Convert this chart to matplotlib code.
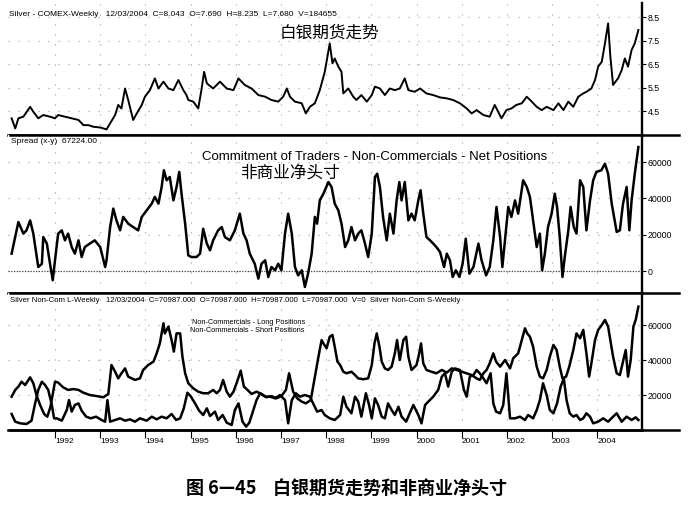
import matplotlib
matplotlib.use('Agg')
import matplotlib.pyplot as plt
from matplotlib.lines import Line2D

plt.rcParams['font.family'] = ['Liberation Sans', 'Noto Sans CJK SC', 'DejaVu Sans']

# ---- silver weekly price ----
price_dates = [1991.04, 1991.12, 1991.19, 1991.30, 1991.45, 1991.52, 1991.63, 1991.74, 1991.89, 1992.00,
               1992.07, 1992.22, 1992.37, 1992.52, 1992.63, 1992.74, 1992.85, 1993.00, 1993.14, 1993.22,
               1993.33, 1993.40, 1993.47, 1993.55, 1993.62, 1993.73, 1993.81, 1993.92, 1993.99, 1994.10,
               1994.21, 1994.29, 1994.40, 1994.51, 1994.62, 1994.73, 1994.84, 1994.91, 1994.95, 1995.06,
               1995.17, 1995.24, 1995.30, 1995.36, 1995.50, 1995.65, 1995.80, 1995.95, 1996.06, 1996.20,
               1996.35, 1996.50, 1996.65, 1996.79, 1996.94, 1997.05, 1997.13, 1997.20, 1997.31, 1997.46,
               1997.55, 1997.64, 1997.75, 1997.86, 1997.97, 1998.08, 1998.14, 1998.19, 1998.27, 1998.34,
               1998.38, 1998.49, 1998.60, 1998.67, 1998.78, 1998.90, 1999.01, 1999.08, 1999.19, 1999.30,
               1999.41, 1999.52, 1999.63, 1999.74, 1999.82, 1999.96, 2000.08, 2000.22, 2000.37, 2000.52,
               2000.67, 2000.81, 2000.96, 2001.11, 2001.22, 2001.33, 2001.48, 2001.62, 2001.73, 2001.88,
               2001.99, 2002.10, 2002.21, 2002.33, 2002.44, 2002.55, 2002.66, 2002.77, 2002.88, 2003.03,
               2003.14, 2003.25, 2003.36, 2003.47, 2003.58, 2003.69, 2003.76, 2003.87, 2003.95, 2004.02,
               2004.10, 2004.17, 2004.24, 2004.29, 2004.35, 2004.46, 2004.54, 2004.61, 2004.68, 2004.76,
               2004.83, 2004.91]
price = [4.19, 3.76, 4.19, 4.26, 4.68, 4.47, 4.19, 4.33, 4.26, 4.19,
         4.33, 4.26, 4.19, 4.12, 3.90, 3.90, 3.83, 3.80, 3.72, 3.98,
         4.33, 4.76, 4.61, 5.46, 4.97, 4.12, 4.40, 4.76, 5.11, 5.39,
         5.89, 5.46, 5.75, 5.46, 5.39, 5.82, 5.39, 5.18, 4.97, 4.90,
         4.61, 5.39, 6.17, 5.68, 5.46, 5.75, 5.46, 5.39, 5.89, 5.61,
         5.46, 5.18, 5.11, 4.97, 4.90, 5.11, 5.46, 5.11, 4.90, 4.83,
         4.40, 4.68, 4.83, 5.39, 6.17, 7.38, 6.53, 6.74, 6.39, 6.17,
         5.25, 5.46, 5.11, 4.97, 5.18, 4.90, 5.18, 5.54, 5.46, 5.18,
         5.46, 5.39, 5.46, 5.89, 5.39, 5.32, 5.46, 5.25, 5.18, 5.08,
         5.04, 4.97, 4.83, 4.61, 4.40, 4.54, 4.33, 4.26, 4.76, 4.19,
         4.54, 4.61, 4.76, 4.83, 5.11, 4.90, 4.68, 4.54, 4.68, 4.54,
         4.83, 4.54, 4.90, 4.68, 5.11, 5.25, 5.32, 5.46, 5.82, 6.39,
         6.60, 7.38, 8.23, 6.81, 5.61, 5.89, 6.24, 6.74, 6.39, 7.10,
         7.38, 7.95]

# ---- non-commercial net positions ----
net_dates = [1991.04, 1991.08, 1991.19, 1991.30, 1991.37, 1991.45, 1991.52, 1991.63, 1991.71, 1991.74,
             1991.82, 1991.89, 1991.95, 1992.00, 1992.07, 1992.15, 1992.22, 1992.29, 1992.37, 1992.44,
             1992.52, 1992.59, 1992.66, 1992.77, 1992.88, 1993.00, 1993.11, 1993.14, 1993.22, 1993.29,
             1993.36, 1993.44, 1993.51, 1993.62, 1993.73, 1993.84, 1993.92, 1994.03, 1994.14, 1994.21,
             1994.29, 1994.36, 1994.41, 1994.47, 1994.54, 1994.62, 1994.69, 1994.75, 1994.80, 1994.88,
             1994.95, 1995.02, 1995.13, 1995.21, 1995.28, 1995.36, 1995.43, 1995.50, 1995.61, 1995.69,
             1995.76, 1995.87, 1995.98, 1996.09, 1996.17, 1996.24, 1996.31, 1996.42, 1996.50, 1996.57,
             1996.65, 1996.72, 1996.79, 1996.87, 1996.94, 1997.01, 1997.09, 1997.16, 1997.24, 1997.31,
             1997.38, 1997.46, 1997.53, 1997.60, 1997.68, 1997.75, 1997.80, 1997.86, 1997.94, 1998.05,
             1998.12, 1998.19, 1998.27, 1998.34, 1998.42, 1998.49, 1998.56, 1998.64, 1998.71, 1998.78,
             1998.86, 1998.93, 1999.01, 1999.08, 1999.13, 1999.19, 1999.26, 1999.34, 1999.41, 1999.49,
             1999.56, 1999.62, 1999.67, 1999.74, 1999.82, 1999.89, 1999.96, 2000.04, 2000.09, 2000.15,
             2000.22, 2000.30, 2000.37, 2000.44, 2000.52, 2000.61, 2000.67, 2000.74, 2000.80, 2000.87,
             2000.95, 2001.02, 2001.09, 2001.17, 2001.26, 2001.37, 2001.44, 2001.54, 2001.62, 2001.70,
             2001.77, 2001.85, 2001.90, 2001.98, 2002.03, 2002.10, 2002.18, 2002.25, 2002.36, 2002.44,
             2002.51, 2002.58, 2002.66, 2002.73, 2002.78, 2002.84, 2002.91, 2002.99, 2003.06, 2003.11,
             2003.17, 2003.23, 2003.28, 2003.36, 2003.41, 2003.48, 2003.54, 2003.62, 2003.69, 2003.76,
             2003.84, 2003.91, 2003.98, 2004.09, 2004.17, 2004.24, 2004.32, 2004.43, 2004.50, 2004.57,
             2004.65, 2004.71, 2004.76, 2004.83, 2004.87, 2004.91]
net_pos = [9550, 14150, 27000, 20600, 22400, 27900, 20600, 2200, 4000, 18700,
           15100, 4000, -5100, 5900, 20600, 22400, 16900, 20600, 13200, 9550,
           16900, 7700, 13200, 15100, 16900, 13200, 2200, 5900, 24200, 34400,
           27900, 22400, 29800, 26100, 24200, 22400, 29800, 33400, 37100, 40800,
           37100, 46300, 55500, 50000, 51800, 38900, 46300, 54600, 42600, 26100,
           8600, 7700, 7700, 9550, 23300, 15100, 11400, 16900, 22400, 24200,
           18700, 16900, 22400, 31600, 20600, 16900, 9550, 4000, -4200, 4000,
           5900, -3300, 2200, 400, 4000, 400, 20600, 31600, 20600, 2200,
           -2400, 400, -8800, -1500, 9550, 29800, 26100, 38900, 42600, 49000,
           46300, 37100, 33400, 26100, 13200, 16900, 24200, 16900, 20600, 22400,
           15100, 7700, 20600, 51800, 53600, 46300, 29800, 16900, 31600, 20600,
           38900, 49000, 38900, 49000, 27900, 31600, 27900, 38900, 44500, 31600,
           18700, 16900, 15100, 13200, 10500, 2200, 9550, 5900, -3300, 400,
           -3300, 4000, 17800, -1500, 2200, 15100, 5900, -2400, 2200, 16900,
           35300, 18700, 2200, 22400, 35300, 29800, 38900, 31600, 50000, 46300,
           40800, 27900, 13200, 20600, 400, 9550, 24200, 31600, 42600, 35300,
           18700, -3300, 7700, 22400, 35300, 24200, 20600, 50000, 46300, 22400,
           38900, 50000, 54600, 55500, 59100, 53600, 37100, 21500, 22400, 37100,
           46300, 22400, 38900, 53600, 61000, 68300]

# ---- non-commercial long positions ----
long_dates = [1991.04, 1991.12, 1991.19, 1991.26, 1991.34, 1991.45, 1991.52, 1991.59, 1991.67, 1991.76,
              1991.83, 1991.90, 1992.00, 1992.07, 1992.18, 1992.29, 1992.41, 1992.52, 1992.63, 1992.77,
              1992.92, 1993.07, 1993.18, 1993.25, 1993.33, 1993.40, 1993.47, 1993.55, 1993.62, 1993.70,
              1993.77, 1993.88, 1993.95, 1994.06, 1994.18, 1994.25, 1994.32, 1994.40, 1994.43, 1994.51,
              1994.58, 1994.63, 1994.69, 1994.77, 1994.82, 1994.88, 1994.95, 1995.06, 1995.17, 1995.28,
              1995.39, 1995.50, 1995.58, 1995.65, 1995.72, 1995.80, 1995.87, 1995.95, 1996.03, 1996.11,
              1996.18, 1996.26, 1996.35, 1996.46, 1996.57, 1996.68, 1996.79, 1996.90, 1997.01, 1997.11,
              1997.18, 1997.27, 1997.36, 1997.46, 1997.55, 1997.66, 1997.75, 1997.83, 1997.90, 1997.94,
              1998.01, 1998.08, 1998.14, 1998.19, 1998.25, 1998.31, 1998.38, 1998.45, 1998.56, 1998.64,
              1998.71, 1998.82, 1998.93, 1999.01, 1999.07, 1999.12, 1999.18, 1999.23, 1999.30, 1999.37,
              1999.45, 1999.52, 1999.57, 1999.63, 1999.71, 1999.77, 1999.82, 1999.89, 2000.00, 2000.06,
              2000.10, 2000.15, 2000.22, 2000.33, 2000.44, 2000.56, 2000.67, 2000.78, 2000.89, 2001.00,
              2001.11, 2001.22, 2001.33, 2001.40, 2001.48, 2001.55, 2001.62, 2001.70, 2001.76, 2001.85,
              2001.96, 2002.07, 2002.14, 2002.25, 2002.33, 2002.40, 2002.45, 2002.51, 2002.58, 2002.66,
              2002.73, 2002.80, 2002.88, 2002.95, 2003.03, 2003.10, 2003.17, 2003.23, 2003.31, 2003.38,
              2003.47, 2003.54, 2003.62, 2003.69, 2003.76, 2003.82, 2003.87, 2003.95, 2004.02, 2004.10,
              2004.17, 2004.24, 2004.29, 2004.35, 2004.43, 2004.50, 2004.57, 2004.63, 2004.68, 2004.74,
              2004.80, 2004.85, 2004.91]
long_pos = [19050, 22900, 24800, 27600, 25700, 30100, 26700, 20000, 14300, 9150,
            7600, 13300, 27600, 27100, 24400, 22900, 23400, 22900, 21300, 20000,
            19400, 18700, 20600, 37100, 33300, 29500, 32400, 35200, 30500, 29500,
            28600, 29500, 34300, 37100, 39100, 43800, 49500, 61000, 55200, 59100,
            51400, 44800, 55200, 55200, 41900, 32400, 26700, 23800, 21900, 21000,
            21000, 22900, 21000, 22900, 28600, 21900, 19050, 21900, 27600, 33900,
            24800, 22900, 20600, 21900, 20600, 18700, 19400, 18100, 19400, 22900,
            32400, 21900, 18100, 16200, 15200, 17100, 30100, 41900, 51400, 49500,
            46700, 53300, 54300, 47600, 39100, 37100, 33300, 32400, 33300, 31400,
            29500, 29000, 29500, 37100, 49500, 55200, 47600, 39100, 35200, 34300,
            36200, 43800, 51400, 40000, 51400, 53300, 41900, 34300, 37100, 43800,
            49500, 38100, 34300, 33300, 32400, 34300, 32800, 35200, 34300, 33300,
            32400, 31400, 29500, 28600, 32400, 34300, 38100, 43800, 39100, 36200,
            40000, 35200, 41000, 43800, 51400, 58100, 55200, 53300, 47600, 36200,
            30500, 29500, 34300, 41900, 48600, 45700, 36200, 29500, 30500, 36200,
            45700, 55200, 52400, 57200, 43800, 30500, 38100, 51400, 57200, 60000,
            62900, 59100, 51400, 41900, 32400, 31400, 39100, 45700, 30500, 40000,
            59100, 62900, 70500]

# ---- non-commercial short positions ----
short_dates = [1991.04, 1991.12, 1991.23, 1991.37, 1991.48, 1991.56, 1991.63, 1991.71, 1991.78, 1991.85,
               1991.93, 1991.98, 1992.04, 1992.15, 1992.26, 1992.31, 1992.37, 1992.44, 1992.52, 1992.59,
               1992.69, 1992.79, 1992.91, 1993.03, 1993.11, 1993.16, 1993.22, 1993.33, 1993.44, 1993.55,
               1993.66, 1993.77, 1993.88, 1994.03, 1994.14, 1994.25, 1994.36, 1994.47, 1994.58, 1994.68,
               1994.77, 1994.85, 1994.93, 1995.00, 1995.10, 1995.19, 1995.28, 1995.36, 1995.43, 1995.54,
               1995.61, 1995.71, 1995.80, 1995.91, 1995.98, 1996.06, 1996.15, 1996.23, 1996.30, 1996.39,
               1996.46, 1996.54, 1996.65, 1996.76, 1996.87, 1996.98, 1997.09, 1997.16, 1997.24, 1997.33,
               1997.42, 1997.53, 1997.64, 1997.73, 1997.80, 1997.90, 1997.97, 1998.08, 1998.19, 1998.31,
               1998.38, 1998.45, 1998.56, 1998.64, 1998.71, 1998.78, 1998.88, 1998.95, 1999.01, 1999.08,
               1999.15, 1999.23, 1999.30, 1999.37, 1999.45, 1999.52, 1999.60, 1999.67, 1999.77, 1999.85,
               1999.93, 2000.04, 2000.11, 2000.19, 2000.26, 2000.37, 2000.48, 2000.56, 2000.63, 2000.70,
               2000.78, 2000.85, 2000.96, 2001.05, 2001.11, 2001.18, 2001.26, 2001.33, 2001.40, 2001.48,
               2001.55, 2001.64, 2001.70, 2001.76, 2001.85, 2001.92, 2001.99, 2002.07, 2002.18, 2002.29,
               2002.40, 2002.47, 2002.58, 2002.66, 2002.73, 2002.80, 2002.88, 2002.95, 2003.03, 2003.11,
               2003.19, 2003.26, 2003.32, 2003.39, 2003.47, 2003.54, 2003.62, 2003.69, 2003.76, 2003.84,
               2003.91, 2004.02, 2004.13, 2004.24, 2004.35, 2004.43, 2004.54, 2004.65, 2004.76, 2004.85,
               2004.91]
short_pos = [9150, 4760, 3810, 3430, 5330, 15200, 22900, 27600, 25700, 22900,
             14300, 6670, 6670, 5330, 11400, 17100, 10500, 14300, 15200, 11000,
             7620, 6670, 7620, 5720, 4760, 17100, 4760, 5720, 6670, 5330,
             6100, 4760, 6670, 5330, 7620, 6100, 7620, 6670, 9150, 5720,
             6670, 12400, 21300, 19400, 15200, 11000, 8570, 12400, 8000, 10500,
             5720, 8570, 4190, 2860, 11400, 15200, 4760, 1900, 4190, 11400,
             17100, 21000, 19050, 19050, 18100, 20000, 17100, 3810, 17100, 21000,
             19050, 20000, 19050, 14300, 10500, 11400, 8570, 6670, 5720, 8570,
             19050, 13300, 9530, 19050, 16200, 7620, 21000, 14300, 6670, 18100,
             14300, 7620, 6670, 15200, 11400, 8570, 13300, 7620, 4760, 9530,
             14300, 8570, 3810, 14300, 16200, 19050, 22900, 30500, 32400, 24800,
             33300, 35200, 34300, 22900, 19050, 30500, 31400, 34300, 32400, 29500,
             26700, 32400, 15200, 10500, 9530, 14300, 32400, 6670, 6670, 7620,
             5720, 8570, 6670, 11400, 17100, 26700, 20000, 11400, 9530, 15200,
             24800, 29500, 17100, 9530, 7620, 8570, 5720, 6670, 9530, 7620,
             3810, 4760, 6670, 4760, 7620, 9530, 4760, 7620, 5720, 7240,
             5720]

years = list(range(1992, 2005))

fig = plt.figure(figsize=(6.92, 5.09), dpi=100)
W, H = 692.0, 509.0


def px_axes(x0, y0, x1, y1):
    return fig.add_axes([x0 / W, 1 - y1 / H, (x1 - x0) / W, (y1 - y0) / H])


ax1 = px_axes(8, 3, 642, 135)
ax2 = px_axes(8, 135, 642, 293)
ax3 = px_axes(8, 293, 642, 430)

xlim = (1990.96, 2004.99)
grid_style = dict(color='#9a9a9a', linestyle=(0, (1, 8)), linewidth=0.8)

for ax in (ax1, ax2, ax3):
    ax.set_xlim(*xlim)
    ax.yaxis.tick_right()
    ax.spines['left'].set_visible(False)
    ax.spines['top'].set_visible(False)
    ax.spines['right'].set_linewidth(1.7)
    ax.spines['bottom'].set_linewidth(1.8)
    ax.set_xticks(years)
    ax.tick_params(axis='y', direction='out', length=3, width=0.8, pad=1, labelsize=6.3)
    ax.grid(True, **grid_style)
    ax.set_facecolor('white')

for ax in (ax1, ax2):
    ax.tick_params(axis='x', length=0, labelbottom=False)

# top: price
ax1.plot(price_dates, price, color='black', linewidth=1.4)
ax1.set_ylim(3.48, 9.1)
ax1.set_yticks([4.5, 5.5, 6.5, 7.5, 8.5])
ax1.set_yticklabels(['4.5', '5.5', '6.5', '7.5', '8.5'])

# middle: net positions
ax2.axhline(0, color='#444444', linestyle=(0, (1, 1.2)), linewidth=0.9)
ax2.plot(net_dates, net_pos, color='black', linewidth=1.8)
ax2.set_ylim(-12120, 74930)
ax2.set_yticks([0, 20000, 40000, 60000])
ax2.set_yticklabels(['0', '20000', '40000', '60000'])

# bottom: long / short
ax3.plot(long_dates, long_pos, color='black', linewidth=1.8)
ax3.plot(short_dates, short_pos, color='black', linewidth=1.8)
ax3.set_ylim(0, 78290)
ax3.set_yticks([20000, 40000, 60000])
ax3.set_yticklabels(['20000', '40000', '60000'])
ax3.tick_params(axis='x', direction='out', length=6, width=0.8, pad=0, labelsize=6)
ax3.set_xticklabels([str(y) for y in years])
for lab in ax3.get_xticklabels():
    lab.set_horizontalalignment('left')

# separator lines reaching past the right axis
for yy in (135, 293, 430):
    fig.add_artist(Line2D([10 / W, 679 / W], [1 - yy / H, 1 - yy / H], color='black', linewidth=1.8))

# texts
def ftext(x, y, s, **kw):
    fig.text(x / W, 1 - y / H, s, **kw)

ftext(9, 15, 'Silver - COMEX-Weekly   12/03/2004  C=8.043  O=7.690  H=8.235  L=7.680  V=184655',
      fontsize=6, va='center')
ftext(329, 33, '白银期货走势', fontsize=12, ha='center', va='center', family=['Noto Sans CJK SC'])

ftext(11, 142, 'Spread (x-y)  67224.00', fontsize=6, va='center')
ftext(375, 157, 'Commitment of Traders - Non-Commercials - Net Positions', fontsize=9.5,
      ha='center', va='center')
ftext(290, 173, '非商业净头寸', fontsize=12, ha='center', va='center', family=['Noto Sans CJK SC'])

ftext(10, 300, 'Silver Non-Com L-Weekly   12/03/2004  C=70987.000  O=70987.000  H=70987.000  '
      'L=70987.000  V=0  Silver Non-Com S-Weekly', fontsize=5.6, va='center')
ftext(192, 322, 'Non-Commercials - Long Positions', fontsize=5.3, va='center')
ftext(190, 331, 'Non-Commercials - Short Positions', fontsize=5.3, va='center')

ftext(346, 488, '图 6—45    白银期货走势和非商业净头寸', fontsize=13, fontweight='bold',
      ha='center', va='center', family=['Noto Sans CJK SC'])

fig.savefig('out.png', dpi=100)
